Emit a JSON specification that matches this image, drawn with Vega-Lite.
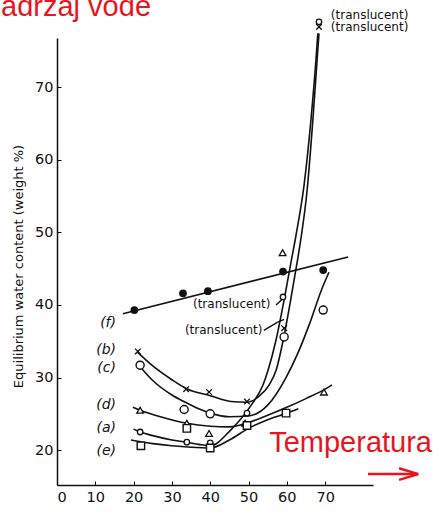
{
  "$schema": "https://vega.github.io/schema/vega-lite/v6.json",
  "width": 316,
  "height": 447,
  "autosize": {"type": "none"},
  "padding": {"left": 57, "top": 38, "right": 66, "bottom": 28},
  "background": "white",
  "config": {"view": {"stroke": null}, "font": "DejaVu Sans"},
  "datasets": {
    "curves": [
      {"curve": "a", "x": 20, "y": 22.9}, {"curve": "a", "x": 21.7, "y": 22.5}, {"curve": "a", "x": 25, "y": 22.0}, {"curve": "a", "x": 30, "y": 21.4}, {"curve": "a", "x": 33.9, "y": 21.1}, {"curve": "a", "x": 37, "y": 20.8}, {"curve": "a", "x": 40, "y": 20.6}, {"curve": "a", "x": 45.4, "y": 22.8}, {"curve": "a", "x": 50.7, "y": 26.2}, {"curve": "a", "x": 53.8, "y": 29}, {"curve": "a", "x": 55.1, "y": 31}, {"curve": "a", "x": 57.2, "y": 35.2}, {"curve": "a", "x": 59.3, "y": 40.7}, {"curve": "a", "x": 61.1, "y": 45.9}, {"curve": "a", "x": 62.4, "y": 49.6}, {"curve": "a", "x": 64.5, "y": 56.5}, {"curve": "a", "x": 66.3, "y": 65.5}, {"curve": "a", "x": 67.6, "y": 73.7}, {"curve": "a", "x": 68.1, "y": 77.4},
      {"curve": "b", "x": 21, "y": 33.5}, {"curve": "b", "x": 25, "y": 31.6}, {"curve": "b", "x": 30, "y": 29.7}, {"curve": "b", "x": 33.7, "y": 28.5}, {"curve": "b", "x": 40, "y": 27.5}, {"curve": "b", "x": 45.4, "y": 26.7}, {"curve": "b", "x": 49.6, "y": 26.6}, {"curve": "b", "x": 52.7, "y": 27.4}, {"curve": "b", "x": 55.4, "y": 29}, {"curve": "b", "x": 57.2, "y": 31}, {"curve": "b", "x": 59.3, "y": 35.8}, {"curve": "b", "x": 61.4, "y": 41.9}, {"curve": "b", "x": 62.7, "y": 45.9}, {"curve": "b", "x": 63.7, "y": 49.2}, {"curve": "b", "x": 65.3, "y": 55.8}, {"curve": "b", "x": 66.8, "y": 65.5}, {"curve": "b", "x": 67.9, "y": 73.7}, {"curve": "b", "x": 68.4, "y": 77.4},
      {"curve": "c", "x": 21.7, "y": 31.5}, {"curve": "c", "x": 25, "y": 29.6}, {"curve": "c", "x": 30, "y": 27.6}, {"curve": "c", "x": 33.5, "y": 26.6}, {"curve": "c", "x": 37, "y": 25.7}, {"curve": "c", "x": 40, "y": 25.1}, {"curve": "c", "x": 45, "y": 24.6}, {"curve": "c", "x": 50, "y": 24.7}, {"curve": "c", "x": 55, "y": 26.2}, {"curve": "c", "x": 59.8, "y": 30}, {"curve": "c", "x": 63, "y": 33.5}, {"curve": "c", "x": 66, "y": 37.5}, {"curve": "c", "x": 69, "y": 42}, {"curve": "c", "x": 71, "y": 44.5},
      {"curve": "d", "x": 19.8, "y": 25.9}, {"curve": "d", "x": 21.7, "y": 25.5}, {"curve": "d", "x": 27, "y": 24.6}, {"curve": "d", "x": 33.9, "y": 23.7}, {"curve": "d", "x": 40, "y": 23.3}, {"curve": "d", "x": 45, "y": 23.2}, {"curve": "d", "x": 50, "y": 23.8}, {"curve": "d", "x": 55, "y": 24.8}, {"curve": "d", "x": 60, "y": 25.9}, {"curve": "d", "x": 65, "y": 27.1}, {"curve": "d", "x": 70, "y": 28.4}, {"curve": "d", "x": 71.8, "y": 29},
      {"curve": "e", "x": 19.3, "y": 21.4}, {"curve": "e", "x": 25, "y": 20.9}, {"curve": "e", "x": 30, "y": 20.6}, {"curve": "e", "x": 35, "y": 20.4}, {"curve": "e", "x": 40, "y": 20.3}, {"curve": "e", "x": 45, "y": 21.4}, {"curve": "e", "x": 50, "y": 23.0}, {"curve": "e", "x": 55, "y": 24.2}, {"curve": "e", "x": 60, "y": 25.1}, {"curve": "e", "x": 63, "y": 25.7},
      {"curve": "f", "x": 17.2, "y": 38.8}, {"curve": "f", "x": 76, "y": 46.6}
    ],
    "markers": [
      {"m": "f", "x": 20.2, "y": 39.3}, {"m": "f", "x": 32.9, "y": 41.6}, {"m": "f", "x": 39.4, "y": 41.9}, {"m": "f", "x": 59, "y": 44.6}, {"m": "f", "x": 69.5, "y": 44.8},
      {"m": "b", "x": 21.1, "y": 33.6}, {"m": "b", "x": 33.7, "y": 28.4}, {"m": "b", "x": 39.7, "y": 28.0}, {"m": "b", "x": 49.6, "y": 26.7}, {"m": "b", "x": 59.3, "y": 36.8}, {"m": "b", "x": 68.4, "y": 78.3},
      {"m": "a", "x": 21.7, "y": 22.5}, {"m": "a", "x": 33.9, "y": 21.1}, {"m": "a", "x": 40, "y": 21.0}, {"m": "a", "x": 49.6, "y": 25.1}, {"m": "a", "x": 59, "y": 41.1}, {"m": "a", "x": 68.4, "y": 79.0},
      {"m": "c", "x": 21.7, "y": 31.7}, {"m": "c", "x": 33.2, "y": 25.6}, {"m": "c", "x": 40, "y": 25.0}, {"m": "c", "x": 59.3, "y": 35.6}, {"m": "c", "x": 69.5, "y": 39.3},
      {"m": "d", "x": 21.7, "y": 25.5}, {"m": "d", "x": 33.9, "y": 23.7}, {"m": "d", "x": 39.7, "y": 22.3}, {"m": "d", "x": 49.1, "y": 23.7}, {"m": "d", "x": 58.9, "y": 47.2}, {"m": "d", "x": 69.7, "y": 28.0},
      {"m": "e", "x": 21.9, "y": 20.6}, {"m": "e", "x": 33.9, "y": 23.0}, {"m": "e", "x": 40, "y": 20.3}, {"m": "e", "x": 49.6, "y": 23.4}, {"m": "e", "x": 59.8, "y": 25.1}
    ],
    "curveLabels": [
      {"label": "(f)", "x": 15.4, "y": 37.5}, {"label": "(b)", "x": 15.4, "y": 33.8}, {"label": "(c)", "x": 15.4, "y": 31.3},
      {"label": "(d)", "x": 15.4, "y": 26.2}, {"label": "(a)", "x": 15.4, "y": 23.0}, {"label": "(e)", "x": 15.4, "y": 19.9}
    ],
    "notes": [
      {"label": "(translucent)", "x": 71.5, "y": 80.0}, {"label": "(translucent)", "x": 71.5, "y": 78.3},
      {"label": "(translucent)", "x": 35.5, "y": 40.1}, {"label": "(translucent)", "x": 33.4, "y": 36.5}
    ],
    "leaders": [
      {"x": 57.2, "y": 40.0, "x2": 59.0, "y2": 40.9},
      {"x": 54.0, "y": 36.5, "x2": 57.5, "y2": 37.6},
      {"x": 57.5, "y": 37.6, "x2": 59.3, "y2": 38.0}
    ],
    "redText": [
      {"label": "Temperatura", "x": 55.4, "y": 19.7},
      {"label": "adržaj vode", "x": -14.6, "y": 79.8}
    ],
    "arrow": [
      {"x": 81.2, "y": 16.7, "x2": 94.3, "y2": 16.7},
      {"x": 94.3, "y": 16.7, "x2": 89.3, "y2": 17.5},
      {"x": 94.3, "y": 16.7, "x2": 89.3, "y2": 15.9}
    ]
  },
  "encoding": {
    "x": {
      "field": "x", "type": "quantitative",
      "scale": {"domain": [0, 82.5], "nice": false, "zero": false},
      "axis": {
        "values": [0, 10, 20, 30, 40, 50, 60, 70], "grid": false, "title": null,
        "domainColor": "#111", "domainWidth": 1.5, "tickColor": "#111", "tickSize": -4,
        "labelFont": "DejaVu Sans", "labelFontSize": 14.5, "labelColor": "#111", "labelPadding": 9
      }
    },
    "y": {
      "field": "y", "type": "quantitative",
      "scale": {"domain": [15.2, 76.77], "nice": false, "zero": false},
      "axis": {
        "values": [20, 30, 40, 50, 60, 70], "grid": false,
        "title": "Equilibrium water content (weight %)",
        "titleFont": "DejaVu Sans", "titleFontSize": 13, "titleFontWeight": "normal", "titleColor": "#111",
        "titleX": -39, "titleY": 228, "titleAngle": -90, "titleAlign": "center", "titleBaseline": "middle",
        "domainColor": "#111", "domainWidth": 1.5, "tickColor": "#111", "tickSize": -4,
        "labelFont": "DejaVu Sans", "labelFontSize": 14.5, "labelColor": "#111", "labelPadding": 8
      }
    }
  },
  "layer": [
    {
      "data": {"name": "curves"},
      "mark": {"type": "line", "interpolate": "monotone", "color": "#111", "strokeWidth": 1.6},
      "encoding": {"detail": {"field": "curve"}}
    },
    {
      "data": {"name": "leaders"},
      "mark": {"type": "rule", "color": "#111", "strokeWidth": 1.4},
      "encoding": {"x2": {"field": "x2"}, "y2": {"field": "y2"}}
    },
    {
      "data": {"name": "markers"},
      "transform": [{"filter": "datum.m == 'f'"}],
      "mark": {"type": "point", "shape": "circle", "filled": true, "color": "#111", "size": 60, "opacity": 1}
    },
    {
      "data": {"name": "markers"},
      "transform": [{"filter": "datum.m == 'a'"}],
      "mark": {"type": "point", "shape": "circle", "filled": true, "fill": "white", "stroke": "#111", "strokeWidth": 1.3, "size": 30, "opacity": 1}
    },
    {
      "data": {"name": "markers"},
      "transform": [{"filter": "datum.m == 'c'"}],
      "mark": {"type": "point", "shape": "circle", "filled": true, "fill": "white", "stroke": "#111", "strokeWidth": 1.4, "size": 65, "opacity": 1}
    },
    {
      "data": {"name": "markers"},
      "transform": [{"filter": "datum.m == 'b'"}],
      "mark": {"type": "point", "shape": "M-1,-1L1,1M-1,1L1,-1", "filled": false, "stroke": "#111", "strokeWidth": 1.3, "size": 32, "opacity": 1}
    },
    {
      "data": {"name": "markers"},
      "transform": [{"filter": "datum.m == 'd'"}],
      "mark": {"type": "point", "shape": "triangle-up", "filled": true, "fill": "white", "stroke": "#111", "strokeWidth": 1.3, "size": 45, "opacity": 1}
    },
    {
      "data": {"name": "markers"},
      "transform": [{"filter": "datum.m == 'e'"}],
      "mark": {"type": "point", "shape": "square", "filled": true, "fill": "white", "stroke": "#111", "strokeWidth": 1.4, "size": 55, "opacity": 1}
    },
    {
      "data": {"name": "curveLabels"},
      "mark": {"type": "text", "font": "DejaVu Sans", "fontSize": 14, "fontStyle": "italic", "color": "#111", "align": "right", "baseline": "middle"},
      "encoding": {"text": {"field": "label"}}
    },
    {
      "data": {"name": "notes"},
      "mark": {"type": "text", "font": "DejaVu Sans", "fontSize": 12, "color": "#111", "align": "left", "baseline": "middle"},
      "encoding": {"text": {"field": "label"}}
    },
    {
      "data": {"name": "redText"},
      "mark": {"type": "text", "font": "Liberation Sans", "fontSize": 29, "color": "#e8141e", "align": "left", "baseline": "alphabetic"},
      "encoding": {"text": {"field": "label"}}
    },
    {
      "data": {"name": "arrow"},
      "mark": {"type": "rule", "color": "#e8141e", "strokeWidth": 2.5},
      "encoding": {"x2": {"field": "x2"}, "y2": {"field": "y2"}}
    }
  ]
}
